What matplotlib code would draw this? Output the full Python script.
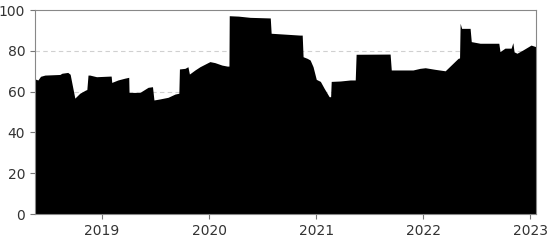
import matplotlib
matplotlib.use('Agg')
from matplotlib import pyplot as plt
import matplotlib.dates as mdates
import pandas as pd

# values
dates = ['2018-05-17', '2018-05-27', '2018-06-05', '2018-06-20', '2018-08-10', '2018-08-17',
         '2018-09-06', '2018-09-14', '2018-09-30', '2018-10-17', '2018-11-06', '2018-11-10',
         '2018-11-14', '2018-11-20', '2018-12-13', '2019-01-28', '2019-02-01', '2019-02-03',
         '2019-02-24', '2019-03-20', '2019-04-02', '2019-04-03', '2019-05-10', '2019-06-07',
         '2019-06-22', '2019-06-27', '2019-07-17', '2019-08-14', '2019-09-07', '2019-09-20',
         '2019-09-22', '2019-10-11', '2019-10-21', '2019-10-26', '2019-11-14', '2019-12-01',
         '2020-01-04', '2020-01-21', '2020-02-14', '2020-03-03', '2020-03-09', '2020-03-10',
         '2020-04-10', '2020-05-20', '2020-07-28', '2020-07-31', '2020-11-06', '2020-11-14',
         '2020-11-17', '2020-12-01', '2020-12-11', '2020-12-21', '2021-01-01', '2021-01-15',
         '2021-01-28', '2021-02-14', '2021-02-19', '2021-02-21', '2021-03-24', '2021-04-27',
         '2021-05-14', '2021-05-17', '2021-09-10', '2021-09-14', '2021-11-27', '2021-12-21',
         '2022-01-08', '2022-02-11', '2022-03-17', '2022-04-30', '2022-05-05', '2022-05-07',
         '2022-05-12', '2022-06-10', '2022-06-14', '2022-07-14', '2022-09-16', '2022-09-20',
         '2022-10-07', '2022-10-28', '2022-11-03', '2022-11-07', '2022-11-17', '2022-12-07',
         '2023-01-04', '2023-01-21']
values = [66.2, 65.7, 67.5, 68.1, 68.4, 69.0,
          69.4, 68.5, 56.8, 59.2, 60.8, 61.0,
          68.1, 68.1, 67.3, 67.6, 67.6, 64.5,
          65.7, 66.6, 67.0, 59.6, 59.6, 62.1,
          62.4, 55.9, 56.4, 57.2, 58.8, 59.2,
          71.1, 71.4, 72.2, 68.6, 70.6, 72.2,
          74.7, 74.2, 73.0, 72.5, 72.5, 97.2,
          97.0, 96.4, 96.1, 88.6, 87.7, 87.7,
          77.1, 76.3, 75.5, 72.2, 66.0, 65.0,
          61.6, 57.5, 57.5, 65.0, 65.2, 65.7,
          65.7, 78.3, 78.4, 70.6, 70.6, 71.4,
          71.7, 70.9, 70.2, 76.3, 76.5, 93.5,
          91.0, 91.0, 84.5, 83.7, 83.7, 79.6,
          81.3, 81.3, 84.0, 79.5, 78.8, 80.4,
          82.8, 82.0]
year_ticks = ['2019', '2020', '2021', '2022', '2023']

x = pd.to_datetime(dates)

fig = plt.figure(figsize=(5.5, 2.41), dpi=100)
ax = fig.add_axes([0.0636, 0.112, 0.911, 0.8465])

for g in [20, 40, 60, 80]:
    ax.axhline(g, color='#d0d0d0', lw=0.8, ls=(0, (4, 3)), zorder=0)

ax.fill_between(x, values, 0, color='black', lw=0, zorder=2)

ax.set_xlim(x[0], x[-1])
ax.set_ylim(0, 100)
ax.set_yticks([0, 20, 40, 60, 80, 100])
ax.set_xticks(pd.to_datetime(year_ticks))
ax.xaxis.set_major_formatter(mdates.DateFormatter('%Y'))
ax.tick_params(axis='both', labelsize=10, color='#777777', labelcolor='#333333',
               length=3.5, width=0.8)

for s in ax.spines.values():
    s.set_color('#888888')

fig.savefig('out.png', dpi=100)
